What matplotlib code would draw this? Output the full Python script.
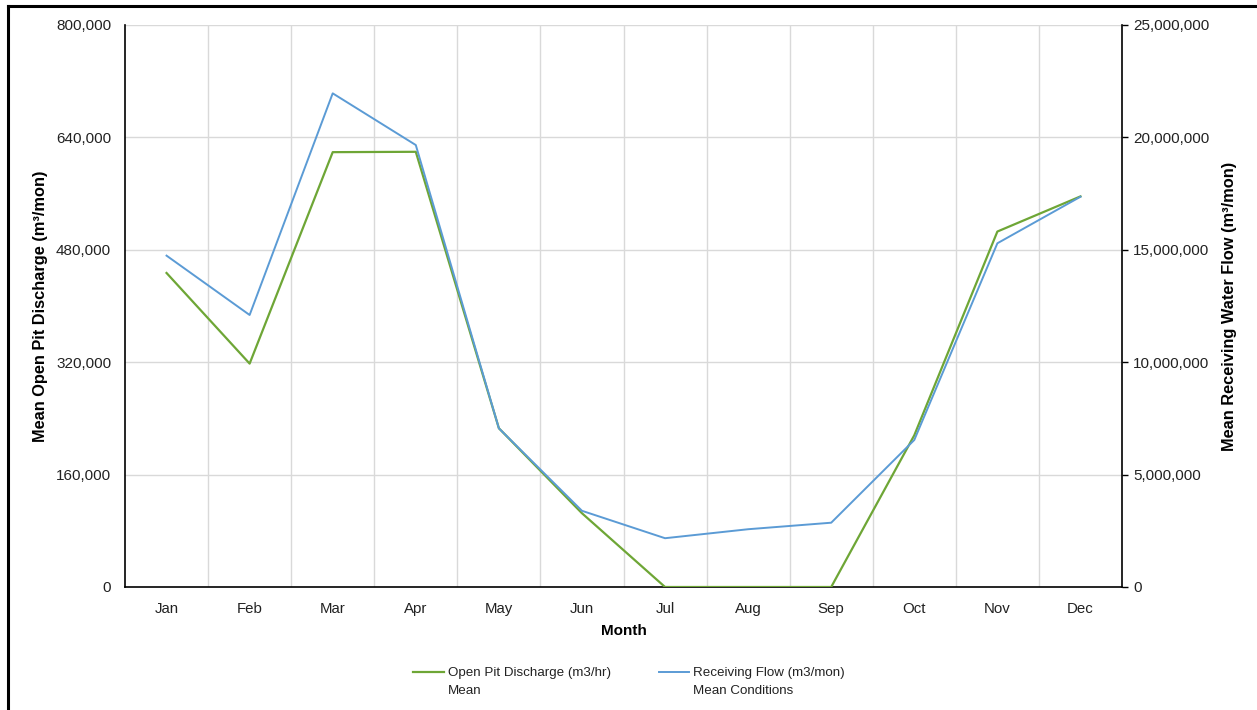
import matplotlib
matplotlib.use("Agg")
import matplotlib.pyplot as plt
from matplotlib.lines import Line2D
from matplotlib.ticker import FuncFormatter, FixedLocator

plt.rcParams['font.family'] = ['Liberation Sans', 'DejaVu Sans']

months = ["Jan", "Feb", "Mar", "Apr", "May", "Jun", "Jul", "Aug", "Sep", "Oct", "Nov", "Dec"]
pit_discharge = [447000, 318000, 619000, 619500, 226000, 105000, 0, 0, 0, 216000, 506000, 556000]
receiving_flow = [14740000, 12100000, 21960000, 19660000, 7060000, 3390000, 2170000, 2570000, 2860000, 6540000, 15290000, 17360000]
left_ticks = [0, 160000, 320000, 480000, 640000, 800000]
right_ticks = [0, 5000000, 10000000, 15000000, 20000000, 25000000]
legend_first = ["Open Pit Discharge (m3/hr)", "Receiving Flow (m3/mon)"]
legend_second = ["Mean", "Mean Conditions"]

W, H = 1257, 710
fig = plt.figure(figsize=(W / 100, H / 100), dpi=100)
L, R, T, B = 125, 1122, 25, 587
ax = fig.add_axes([L / W, 1 - B / H, (R - L) / W, (B - T) / H])
ax2 = ax.twinx()

x = list(range(len(months)))
green = "#6ea636"
blue = "#5b9bd5"

ax.plot(x, pit_discharge, color=green, lw=1.6, zorder=3)
ax2.plot(x, receiving_flow, color=blue, lw=1.4, zorder=3)

ax.set_xlim(-0.5, len(months) - 0.5)
ax.set_ylim(0, 800000)
ax2.set_ylim(0, 25000000)

fmt = FuncFormatter(lambda v, p: f"{int(v):,}")
ax.yaxis.set_major_locator(FixedLocator(left_ticks))
ax.yaxis.set_major_formatter(fmt)
ax2.yaxis.set_major_locator(FixedLocator(right_ticks))
ax2.yaxis.set_major_formatter(fmt)
ax.set_xticks(x)
ax.set_xticklabels(months, va="baseline")
ax.set_xticks([i + 0.5 for i in x[:-1]], minor=True)

# grid
for v in left_ticks[1:]:
    ax.axhline(v, color="#d9d9d9", lw=1.0, zorder=0)
ax.grid(True, which="minor", axis="x", color="#d9d9d9", lw=1.0, zorder=0)
ax.tick_params(axis="x", which="both", length=0, labelsize=10.8, colors="#222222", pad=18.5)
ax.tick_params(axis="y", length=0, labelsize=11, colors="#222222", pad=10)
ax2.tick_params(axis="y", length=4, width=1, labelsize=11, colors="#222222", pad=4)
ax2.tick_params(axis="y", color="black")

for a in (ax, ax2):
    a.spines["top"].set_visible(False)
    for s in ("left", "bottom", "right"):
        a.spines[s].set_color("black")
        a.spines[s].set_linewidth(1.2)
ax.spines["right"].set_visible(False)
ax2.spines["left"].set_visible(False)
ax2.spines["bottom"].set_visible(False)

ax.set_xlabel("Month", fontsize=11, fontweight="bold", labelpad=6)
ax.set_ylabel("Mean Open Pit Discharge (m³/mon)", fontsize=11.8, fontweight="bold", labelpad=6)
ax2.set_ylabel("Mean Receiving Water Flow (m³/mon)", fontsize=11.8, fontweight="bold", labelpad=9)

handles = [Line2D([], [], color=green, lw=1.6), Line2D([], [], color=blue, lw=1.4)]
leg = fig.legend(handles, legend_first, loc="center", bbox_to_anchor=(629 / W, 1 - 673 / H), ncol=2,
                 frameon=False, fontsize=9.6, handlelength=2.3, handletextpad=0.3,
                 columnspacing=3.6, labelcolor="#222222")

# figure border (left and top)
fig.add_artist(Line2D([8 / W, 8 / W], [0, 1 - 6 / H], color="black", lw=2.2, transform=fig.transFigure))
fig.add_artist(Line2D([8 / W, 1], [1 - 6 / H, 1 - 6 / H], color="black", lw=2.2, transform=fig.transFigure))

# second line of each legend label, placed under the first line
fig.canvas.draw()
for t, s in zip(leg.get_texts(), legend_second):
    bb = t.get_window_extent()
    fig.text(bb.x0 / W, (bb.y1 - 18) / H, s, fontsize=9.6, color="#222222", va="top", ha="left")

fig.savefig("out.png", dpi=100)
